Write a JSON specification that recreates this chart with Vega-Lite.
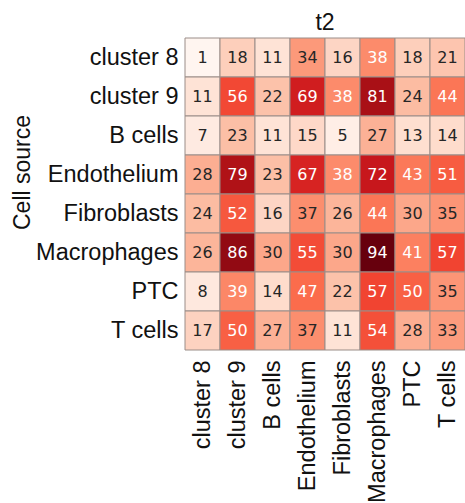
{
  "$schema": "https://vega.github.io/schema/vega-lite/v6.json",
  "autosize": "none",
  "width": 280,
  "height": 312,
  "padding": {"left": 185, "top": 38, "right": 0, "bottom": 153},
  "background": "white",
  "config": {"view": {"stroke": null}, "font": "Liberation Sans"},
  "title": {"text": "t2", "fontSize": 23, "fontWeight": "normal", "font": "Liberation Sans", "color": "#111", "offset": 3, "anchor": "middle"},
  "data": {"values": [
    {"src": "cluster 8", "tgt": "cluster 8", "v": 1},
    {"src": "cluster 8", "tgt": "cluster 9", "v": 18},
    {"src": "cluster 8", "tgt": "B cells", "v": 11},
    {"src": "cluster 8", "tgt": "Endothelium", "v": 34},
    {"src": "cluster 8", "tgt": "Fibroblasts", "v": 16},
    {"src": "cluster 8", "tgt": "Macrophages", "v": 38},
    {"src": "cluster 8", "tgt": "PTC", "v": 18},
    {"src": "cluster 8", "tgt": "T cells", "v": 21},
    {"src": "cluster 9", "tgt": "cluster 8", "v": 11},
    {"src": "cluster 9", "tgt": "cluster 9", "v": 56},
    {"src": "cluster 9", "tgt": "B cells", "v": 22},
    {"src": "cluster 9", "tgt": "Endothelium", "v": 69},
    {"src": "cluster 9", "tgt": "Fibroblasts", "v": 38},
    {"src": "cluster 9", "tgt": "Macrophages", "v": 81},
    {"src": "cluster 9", "tgt": "PTC", "v": 24},
    {"src": "cluster 9", "tgt": "T cells", "v": 44},
    {"src": "B cells", "tgt": "cluster 8", "v": 7},
    {"src": "B cells", "tgt": "cluster 9", "v": 23},
    {"src": "B cells", "tgt": "B cells", "v": 11},
    {"src": "B cells", "tgt": "Endothelium", "v": 15},
    {"src": "B cells", "tgt": "Fibroblasts", "v": 5},
    {"src": "B cells", "tgt": "Macrophages", "v": 27},
    {"src": "B cells", "tgt": "PTC", "v": 13},
    {"src": "B cells", "tgt": "T cells", "v": 14},
    {"src": "Endothelium", "tgt": "cluster 8", "v": 28},
    {"src": "Endothelium", "tgt": "cluster 9", "v": 79},
    {"src": "Endothelium", "tgt": "B cells", "v": 23},
    {"src": "Endothelium", "tgt": "Endothelium", "v": 67},
    {"src": "Endothelium", "tgt": "Fibroblasts", "v": 38},
    {"src": "Endothelium", "tgt": "Macrophages", "v": 72},
    {"src": "Endothelium", "tgt": "PTC", "v": 43},
    {"src": "Endothelium", "tgt": "T cells", "v": 51},
    {"src": "Fibroblasts", "tgt": "cluster 8", "v": 24},
    {"src": "Fibroblasts", "tgt": "cluster 9", "v": 52},
    {"src": "Fibroblasts", "tgt": "B cells", "v": 16},
    {"src": "Fibroblasts", "tgt": "Endothelium", "v": 37},
    {"src": "Fibroblasts", "tgt": "Fibroblasts", "v": 26},
    {"src": "Fibroblasts", "tgt": "Macrophages", "v": 44},
    {"src": "Fibroblasts", "tgt": "PTC", "v": 30},
    {"src": "Fibroblasts", "tgt": "T cells", "v": 35},
    {"src": "Macrophages", "tgt": "cluster 8", "v": 26},
    {"src": "Macrophages", "tgt": "cluster 9", "v": 86},
    {"src": "Macrophages", "tgt": "B cells", "v": 30},
    {"src": "Macrophages", "tgt": "Endothelium", "v": 55},
    {"src": "Macrophages", "tgt": "Fibroblasts", "v": 30},
    {"src": "Macrophages", "tgt": "Macrophages", "v": 94},
    {"src": "Macrophages", "tgt": "PTC", "v": 41},
    {"src": "Macrophages", "tgt": "T cells", "v": 57},
    {"src": "PTC", "tgt": "cluster 8", "v": 8},
    {"src": "PTC", "tgt": "cluster 9", "v": 39},
    {"src": "PTC", "tgt": "B cells", "v": 14},
    {"src": "PTC", "tgt": "Endothelium", "v": 47},
    {"src": "PTC", "tgt": "Fibroblasts", "v": 22},
    {"src": "PTC", "tgt": "Macrophages", "v": 57},
    {"src": "PTC", "tgt": "PTC", "v": 50},
    {"src": "PTC", "tgt": "T cells", "v": 35},
    {"src": "T cells", "tgt": "cluster 8", "v": 17},
    {"src": "T cells", "tgt": "cluster 9", "v": 50},
    {"src": "T cells", "tgt": "B cells", "v": 27},
    {"src": "T cells", "tgt": "Endothelium", "v": 37},
    {"src": "T cells", "tgt": "Fibroblasts", "v": 11},
    {"src": "T cells", "tgt": "Macrophages", "v": 54},
    {"src": "T cells", "tgt": "PTC", "v": 28},
    {"src": "T cells", "tgt": "T cells", "v": 33}
  ]},
  "encoding": {
    "x": {"field": "tgt", "type": "nominal", "sort": ["cluster 8", "cluster 9", "B cells", "Endothelium", "Fibroblasts", "Macrophages", "PTC", "T cells"],
      "scale": {"paddingInner": 0, "paddingOuter": 0},
      "axis": {"title": null, "orient": "bottom", "labelAngle": -90, "labelFontSize": 23.5, "labelFont": "Liberation Sans", "labelColor": "#111", "labelPadding": 10, "ticks": false, "domain": false, "labelLimit": 0}},
    "y": {"field": "src", "type": "nominal", "sort": ["cluster 8", "cluster 9", "B cells", "Endothelium", "Fibroblasts", "Macrophages", "PTC", "T cells"],
      "scale": {"paddingInner": 0, "paddingOuter": 0},
      "axis": {"title": "Cell source", "titleFontSize": 23, "titleFont": "Liberation Sans", "titleFontWeight": "normal", "titleColor": "#111", "titleX": -163, "titleY": 134, "titleAngle": -90, "titleAlign": "center", "titleBaseline": "middle",
        "labelFontSize": 23.5, "labelFont": "Liberation Sans", "labelColor": "#111", "labelPadding": 7, "ticks": false, "domain": false, "labelLimit": 0}}
  },
  "layer": [
    {"mark": {"type": "rect", "stroke": "#9a8d88", "strokeWidth": 1},
     "encoding": {"color": {"field": "v", "type": "quantitative", "scale": {"domain": [1, 94], "range": ["#fff5f0", "#fee0d2", "#fcbba1", "#fc9272", "#fb6a4a", "#ef3b2c", "#cb181d", "#a50f15", "#67000d"], "interpolate": "rgb"}, "legend": null}}},
    {"mark": {"type": "text", "font": "DejaVu Sans", "fontSize": 16, "baseline": "middle", "align": "center"},
     "encoding": {"text": {"field": "v", "type": "quantitative"},
       "color": {"condition": {"test": "datum.v >= 38", "value": "#ffffff"}, "value": "#262626"}}}
  ]
}
